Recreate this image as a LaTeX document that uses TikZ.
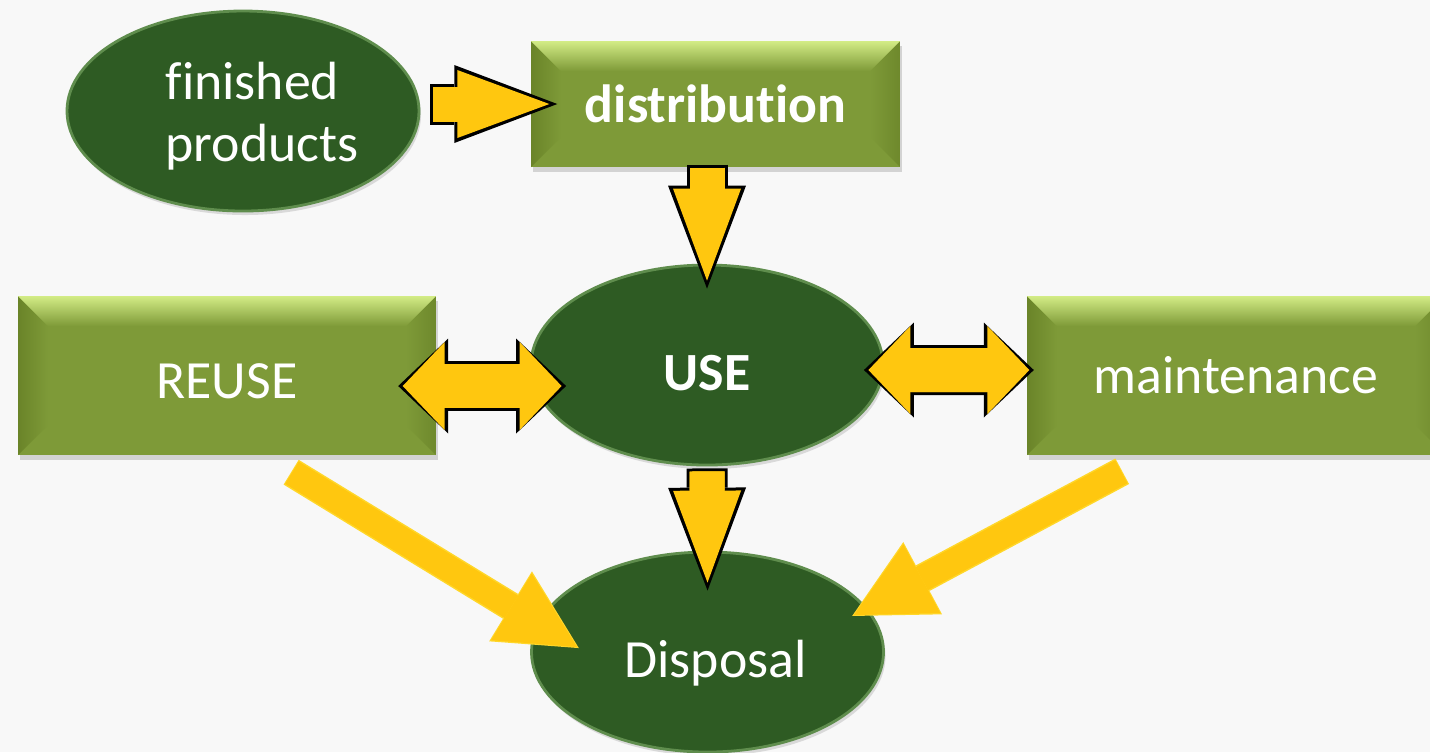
\documentclass[tikz,border=0pt]{standalone}
\usepackage{fontspec}
\setmainfont{Carlito}[Ligatures={NoCommon,NoRequired,NoContextual}]
\usetikzlibrary{positioning,calc}
\usetikzlibrary{shapes,shadows,arrows.meta}

\definecolor{paper}{HTML}{F8F8F8}
\definecolor{olivebox}{HTML}{7E9A38}
\definecolor{olivedark}{HTML}{6A8429}
\definecolor{olivelight}{HTML}{D3EC86}
\definecolor{leafgreen}{HTML}{2E5B23}
\definecolor{leafrim}{HTML}{5F8D4D}
\definecolor{arrowgold}{HTML}{FFC70F}
\definecolor{arrowlight}{HTML}{FFE23C}

\tikzset{
  leaf/.style={ellipse, fill=leafgreen, draw=leafrim, line width=0.8pt,
    minimum width=3.52cm, minimum height=2cm, inner sep=0pt, text=white, align=left,
    drop shadow={opacity=0.25, shadow xshift=0.02cm, shadow yshift=-0.04cm}},
  lowtext/.style={text height=18pt, text depth=3.4pt},
  bevelbox/.style={rectangle, fill=olivebox, text=white, inner sep=0pt,
    drop shadow={opacity=0.3, shadow xshift=0.02cm, shadow yshift=-0.05cm},
    path picture={
      \coordinate (nw) at (path picture bounding box.north west);
      \coordinate (ne) at (path picture bounding box.north east);
      \coordinate (sw) at (path picture bounding box.south west);
      \coordinate (se) at (path picture bounding box.south east);
      % left and right faces
      \shade[left color=olivedark, right color=olivebox]
        (nw) -- ($(nw)+(0.3,-0.3)$) -- ($(sw)+(0.3,0.3)$) -- (sw) -- cycle;
      \shade[right color=olivedark!80!olivebox, left color=olivebox]
        (ne) -- ($(ne)+(-0.3,-0.3)$) -- ($(se)+(-0.3,0.3)$) -- (se) -- cycle;
      % top face
      \shade[top color=olivelight, bottom color=olivebox]
        (nw) -- (ne) -- ($(ne)+(-0.3,-0.3)$) -- ($(nw)+(0.3,-0.3)$) -- cycle;
    }},
  fatarrow/.style={draw=arrowgold, line width=0.35cm,
    -{Triangle[length=0.92cm,width=0.68cm,line width=0pt]},
    preaction={draw=black, line width=0.41cm,
      -{Triangle[length=1.03cm,width=0.78cm,line width=0pt]},
      shorten >=-0.08cm, shorten <=-0.03cm},
    postaction={draw=arrowgold, line width=0.35cm, -, shorten >=0.8cm}},
  twinarrow/.style={draw=arrowgold, line width=0.44cm,
    {Triangle[length=0.42cm,width=0.88cm,line width=0pt]}-{Triangle[length=0.42cm,width=0.88cm,line width=0pt]},
    preaction={draw=black, line width=0.5cm,
      {Triangle[length=0.5cm,width=0.95cm,line width=0pt]}-{Triangle[length=0.5cm,width=0.95cm,line width=0pt]},
      shorten >=-0.045cm, shorten <=-0.045cm},
    postaction={draw=arrowgold, line width=0.44cm, -, shorten >=0.3cm, shorten <=0.3cm}},
  slimarrow/.style={draw=arrowgold, line width=0.26cm,
    -{Triangle[length=0.77cm,width=0.78cm,line width=0pt]},
    preaction={draw=arrowlight!60!arrowgold, line width=0.29cm,
      -{Triangle[length=0.8cm,width=0.82cm,line width=0pt]},
      shorten >=-0.02cm, shorten <=-0.01cm}}
}

\begin{document}
\begin{tikzpicture}[font=\fontsize{15.3}{17.8}\selectfont]
  \fill[paper] (0,0) rectangle (14.3,-7.52);
  \clip (0,0) rectangle (14.3,-7.52);

  % Shapes
  \node[leaf, text height=32pt, text depth=3pt] (fp) at (2.43,-1.11) {\hspace*{0.38cm}finished\\\hspace*{0.38cm}products};
  \node[bevelbox, minimum width=3.69cm, minimum height=1.26cm] (dist) at (7.155,-1.04) {\textbf{distribution}};
  \node[leaf, lowtext] (use) at (7.07,-3.65) {\textbf{USE}};
  \node[bevelbox, minimum width=4.18cm, minimum height=1.59cm, text height=12.8pt, text depth=0pt] (reuse) at (2.27,-3.755) {REUSE};
  \node[bevelbox, minimum width=4.18cm, minimum height=1.59cm] (maint) at (12.36,-3.755) {maintenance};
  \node[leaf, lowtext] (disp) at (7.075,-6.52) {\hspace*{0.16cm}Disposal};

  % Arrows
  \draw[fatarrow] ([shift={(0.13,0)}]fp.east |- dist.west) -- ([shift={(0.19,0)}]dist.west);
  \draw[fatarrow] (use.north |- dist.south) -- ([shift={(0,-0.17)}]use.north);
  \draw[fatarrow] ([shift={(0,-0.05)}]use.south) -- ([shift={(0,-0.32)}]disp.north);
  \draw[twinarrow] ([shift={(-0.34,-0.105)}]reuse.east) -- ([shift={(0.32,-0.21)}]use.west);
  \draw[twinarrow] ([shift={(-0.16,-0.05)}]use.east) -- ([shift={(0.03,0.055)}]maint.west);
  \draw[slimarrow] ([shift={(0.65,-0.17)}]reuse.south) -- ([shift={(0.47,0.05)}]disp.west);
  \draw[slimarrow] ([shift={(0.95,-0.16)}]maint.south west) -- ([shift={(-0.31,0.37)}]disp.east);
\end{tikzpicture}
\end{document}
